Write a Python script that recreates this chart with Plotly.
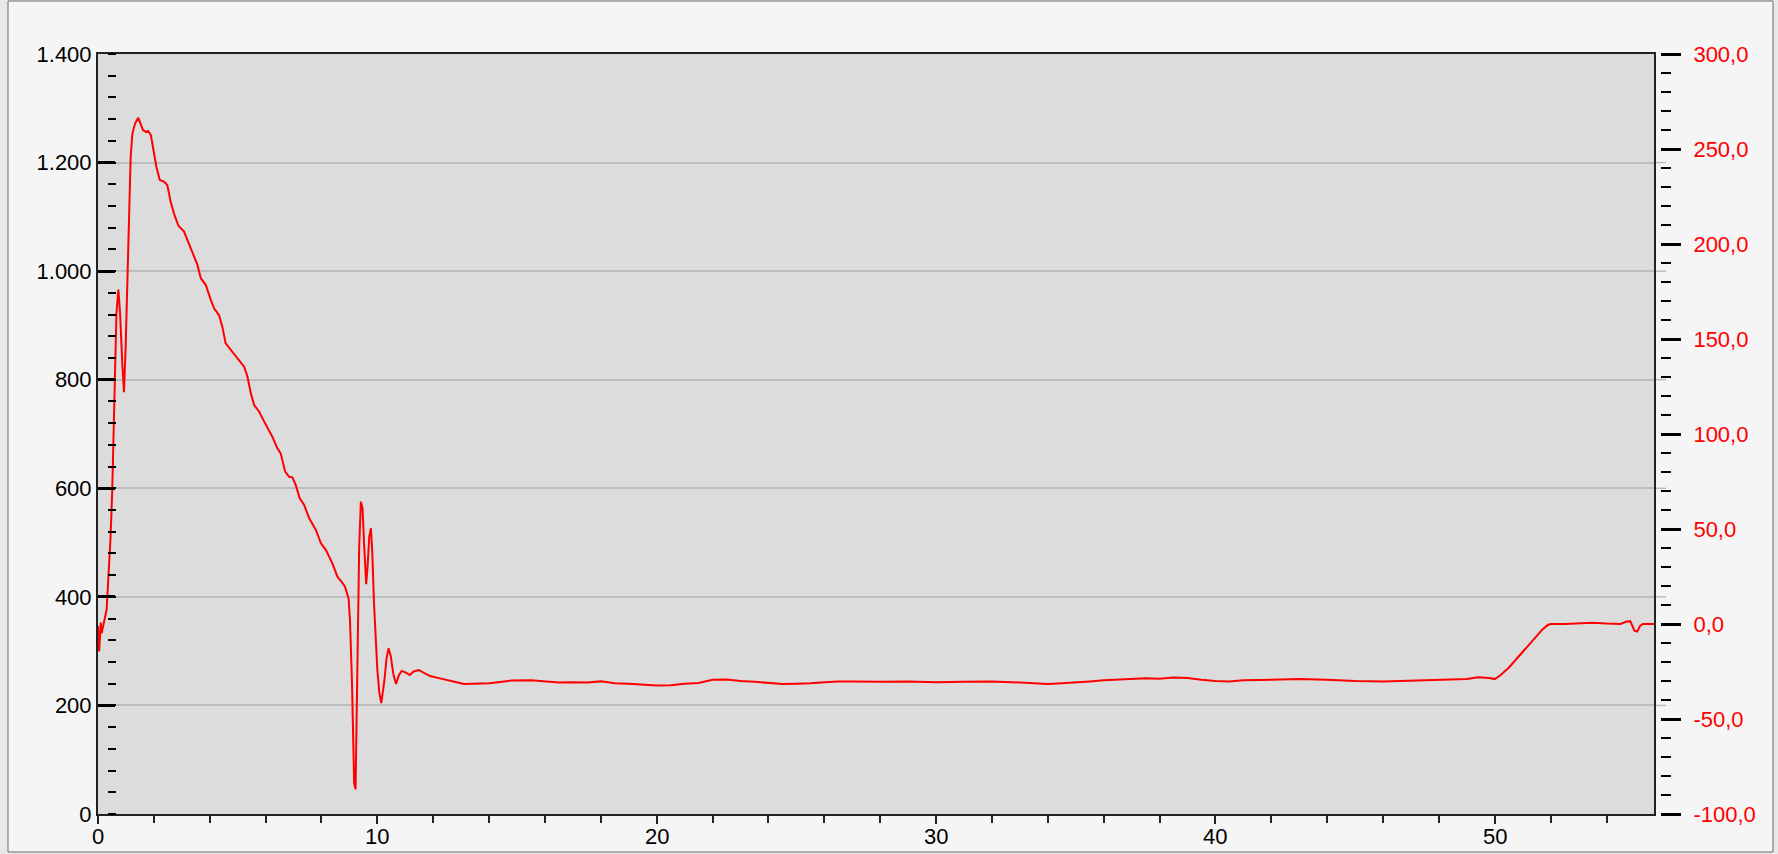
import plotly.graph_objects as go

# ---- data (time in x units, value on the right axis) ----
time = [0.00, 0.04, 0.10, 0.13, 0.31, 0.37, 0.45, 0.51, 0.57, 0.61, 0.66, 0.73, 0.79, 0.87, 0.93,
        0.99, 1.05, 1.11, 1.17, 1.23, 1.33, 1.44, 1.53, 1.61, 1.71, 1.79, 1.89, 1.97, 2.09, 2.21,
        2.36, 2.48, 2.60, 2.72, 2.88, 3.08, 3.20, 3.38, 3.56, 3.68, 3.86, 4.04, 4.16, 4.33, 4.45,
        4.57, 4.75, 4.93, 5.11, 5.23, 5.35, 5.47, 5.59, 5.77, 5.95, 6.12, 6.24, 6.42, 6.54, 6.70,
        6.84, 6.96, 7.08, 7.22, 7.38, 7.56, 7.80, 7.98, 8.16, 8.39, 8.57, 8.75, 8.84, 8.97, 9.02,
        9.09, 9.13, 9.17, 9.22, 9.25, 9.28, 9.31, 9.35, 9.41, 9.47, 9.53, 9.60, 9.65, 9.71, 9.77,
        9.82, 9.88, 9.95, 10.00, 10.07, 10.14, 10.25, 10.33, 10.40, 10.48, 10.58, 10.67, 10.77, 10.87, 11.00,
        11.16, 11.30, 11.48, 11.70, 11.89, 12.20, 12.50, 12.80, 13.10, 13.5, 14.0, 14.4, 14.8, 15.5, 16.0,
        16.5, 17.0, 17.5, 18.0, 18.5, 19.0, 19.5, 20.0, 20.5, 21.0, 21.5, 22.0, 22.5, 23.0, 23.5,
        24.0, 24.5, 25.0, 25.5, 26.0, 26.5, 27.0, 28.0, 29.0, 30.0, 31.0, 32.0, 33.0, 34.0, 34.5,
        35.0, 35.5, 36.0, 37.0, 37.5, 38.0, 38.5, 39.0, 39.5, 40.0, 40.5, 41.0, 42.0, 43.0, 44.0,
        45.0, 46.0, 47.0, 48.0, 49.0, 49.4, 49.8, 50.0, 50.2, 50.5, 50.8, 51.1, 51.4, 51.7, 51.9,
        52.0, 52.5, 53.0, 53.5, 54.0, 54.5, 54.7, 54.85, 55.0, 55.1, 55.2, 55.3, 55.7]
value = [-1.0, -14.5, 0.7, -4.9, 7.7, 23.0, 46.0, 70.5, 102.0, 128.0, 163.5, 176.0, 163.5, 137.0, 122.0,
         146.0, 181.0, 216.0, 246.0, 258.0, 263.5, 266.5, 262.6, 260.0, 259.0, 259.5, 257.4, 251.0, 240.7, 233.7,
         232.8, 231.0, 222.3, 216.0, 209.6, 206.5, 202.0, 195.0, 189.0, 182.0, 178.4, 170.5, 166.0, 162.6, 156.5,
         147.7, 144.2, 140.7, 137.2, 135.4, 130.2, 121.4, 115.2, 111.7, 106.5, 102.0, 98.6, 92.5, 89.8, 80.2,
         77.5, 77.2, 73.1, 66.2, 62.6, 55.6, 49.5, 42.5, 38.9, 31.9, 24.9, 21.7, 19.6, 13.5, 2.0,
         -29.5, -56.0, -84.0, -87.0, -60.0, -20.0, 14.4, 40.7, 64.4, 60.9, 40.7, 21.0, 30.2, 46.0, 50.4,
         37.2, 10.9, -12.0, -24.2, -36.0, -41.6, -30.0, -18.0, -12.8, -17.0, -27.0, -31.6, -27.0, -24.7, -25.5,
         -26.8, -25.0, -24.2, -26.0, -27.4, -28.5, -29.7, -30.5, -31.6, -31.4, -31.2, -30.5, -29.8, -29.6, -30.2,
         -30.8, -30.6, -30.8, -30.2, -31.2, -31.4, -31.8, -32.4, -32.2, -31.4, -31.0, -29.4, -29.2, -30.0, -30.4,
         -31.0, -31.6, -31.4, -31.2, -30.6, -30.2, -30.2, -30.4, -30.2, -30.6, -30.4, -30.2, -30.8, -31.6, -31.2,
         -30.8, -30.2, -29.6, -29.0, -28.6, -28.8, -28.2, -28.4, -29.4, -30.0, -30.2, -29.6, -29.4, -29.0, -29.4,
         -30.0, -30.2, -29.8, -29.4, -29.0, -28.0, -28.4, -29.0, -27.0, -23.0, -18.0, -13.0, -8.0, -3.0, -0.5,
         0.0, 0.0, 0.2, 0.6, 0.2, 0.0, 1.2, 1.5, -3.5, -4.0, -1.0, 0.0, 0.0]

x_tick_vals = [0, 10, 20, 30, 40, 50]
x_tick_text = ["0", "10", "20", "30", "40", "50"]
left_tick_vals = [0, 200, 400, 600, 800, 1000, 1200, 1400]
left_tick_text = ["0", "200", "400", "600", "800", "1.000", "1.200", "1.400"]
right_tick_vals = [-100, -50, 0, 50, 100, 150, 200, 250, 300]
right_tick_text = ["-100,0", "-50,0", "0,0", "50,0", "100,0", "150,0", "200,0", "250,0", "300,0"]

FONT = "Liberation Sans, Arial, sans-serif"

fig = go.Figure()
# empty helper traces so that the extra tick-only axis is drawn
fig.add_trace(go.Scatter(x=[None], y=[None], yaxis="y", showlegend=False, hoverinfo="skip"))
fig.add_trace(go.Scatter(x=[None], y=[None], yaxis="y3", showlegend=False, hoverinfo="skip"))
fig.add_trace(go.Scatter(x=time, y=value, mode="lines", yaxis="y2",
                         line=dict(color="#ff0000", width=2), showlegend=False))

W, H = 1778, 854
ml, mr, mt, mb = 98, 118, 54, 40
pw, ph = W - ml - mr, H - mt - mb
dom_end = (1654 - ml) / pw
grid_ext = 12 / (1654 - ml)
x_range = [0, 55.7]

shapes = [
    dict(type="rect", xref="paper", yref="paper", layer="below",
         x0=(8 - ml) / pw, x1=(1773 - ml) / pw, y0=-(852 - (H - mb)) / ph, y1=((H - mb) - 1) / ph,
         fillcolor="#f5f5f5", line=dict(color="#6a6a6a", width=1)),
    dict(type="rect", xref="x domain", yref="y domain", layer="below",
         x0=0, x1=1, y0=0, y1=1, fillcolor="#dcdcdc", line=dict(width=0)),
]
# gridlines poke slightly out past the right border in the original
for v in left_tick_vals[1:-1]:
    shapes.append(dict(type="line", xref="x domain", yref="y", layer="below",
                       x0=1, x1=1 + grid_ext, y0=v, y1=v,
                       line=dict(color="#bdbdbd", width=1.5)))

# x tick labels placed as text at their axis values, just under the axis
annotations = [dict(x=v, y=0, xref="x", yref="paper", text=t, showarrow=False,
                    xanchor="center", yanchor="middle", yshift=-22,
                    font=dict(family=FONT, size=22, color="#000"))
               for v, t in zip(x_tick_vals, x_tick_text)]

fig.update_layout(
    width=W, height=H,
    margin=dict(l=ml, r=mr, t=mt, b=mb, pad=0, autoexpand=False),
    paper_bgcolor="#e8e8e8",
    plot_bgcolor="#dcdcdc",
    font=dict(family=FONT, size=22, color="#000000"),
    showlegend=False,
    xaxis=dict(domain=[0, dom_end], range=x_range, tickvals=x_tick_vals, automargin=False,
               showticklabels=False,
               ticks="outside", ticklen=8, tickwidth=1.5, tickcolor="#222",
               minor=dict(dtick=2, ticks="outside", ticklen=7, tickwidth=1.5, tickcolor="#222"),
               showgrid=False, zeroline=False, showline=True, linecolor="#222",
               linewidth=2, mirror=True),
    yaxis=dict(range=[0, 1400], tickvals=left_tick_vals, ticktext=left_tick_text, automargin=False,
               ticks="inside", ticklen=17, tickwidth=2.5, tickcolor="#000",
               showgrid=True, gridcolor="#bdbdbd", gridwidth=1.5, zeroline=False,
               showline=True, linecolor="#222", linewidth=2, mirror=True,
               tickfont=dict(size=22, color="#000")),
    yaxis3=dict(range=[0, 1400], overlaying="y", anchor="free", side="right", automargin=False,
                position=9 / pw, dtick=40, tick0=0, ticks="outside", ticklen=8,
                tickwidth=2, tickcolor="#000", showticklabels=False, showgrid=False,
                zeroline=False, showline=False),
    yaxis2=dict(range=[-100, 300], overlaying="y", anchor="free", side="right", position=1,
                tickvals=right_tick_vals, ticktext=right_tick_text, automargin=False,
                ticks="outside", ticklen=20, tickwidth=2.5, tickcolor="#000",
                minor=dict(dtick=10, ticks="outside", ticklen=10, tickwidth=2, tickcolor="#000"),
                showgrid=False, zeroline=False, showline=False, ticklabelstandoff=8,
                tickfont=dict(size=22, color="#ff0000")),
    shapes=shapes,
    annotations=annotations,
)

fig.write_html("out.html", config={"displayModeBar": False},
               post_script="document.body.style.margin='0';document.body.style.overflow='hidden';")
